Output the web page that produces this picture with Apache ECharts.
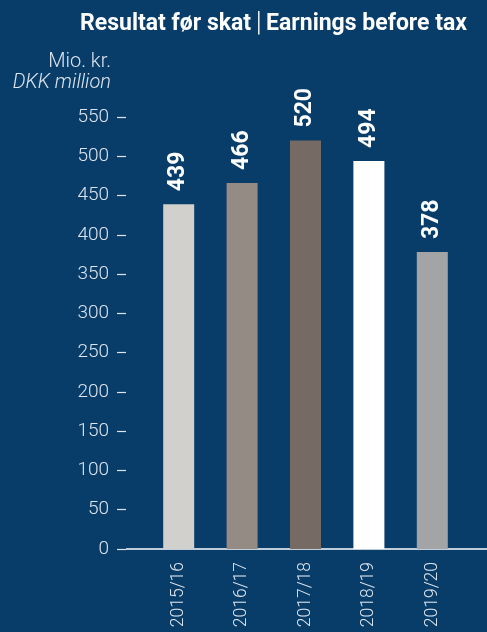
<!DOCTYPE html>
<html>
<head>
<meta charset="utf-8">
<script src="https://cdn.jsdelivr.net/npm/echarts@6/dist/echarts.min.js"></script>
<style>
  html, body { margin: 0; padding: 0; background: #083d69; }
  #chart { width: 487px; height: 632px; }
</style>
</head>
<body>
<div id="chart"></div>
<script>
// data
const years = ['2015/16', '2016/17', '2017/18', '2018/19', '2019/20']
const earnings = [439, 466, 520, 494, 378]
const barColors = ['#d1d0cd', '#958b85', '#756b64', '#ffffff', '#a3a4a6']

const FONT = 'Roboto'
const LIGHT = '#dde5ee'

const chart = echarts.init(document.getElementById('chart'))

const option = {
  backgroundColor: '#083d69',
  textStyle: { fontFamily: FONT },
  title: {
    right: 15,
    top: 6,
    text: '{b|Resultat før skat} {s||} {b|Earnings before tax}',
    textStyle: {
      rich: {
        b: { fontFamily: FONT, fontSize: 23, fontWeight: 'bold', color: '#fff' },
        s: { fontFamily: FONT, fontSize: 27, fontWeight: 300, color: '#fff' }
      }
    }
  },
  grid: { left: 147, right: 23, top: 117, bottom: 83, outerBoundsMode: 'none' },
  xAxis: {
    type: 'category',
    data: years,
    axisLine: { show: false },
    axisTick: { show: false },
    axisLabel: { rotate: 90, margin: 13, color: LIGHT, fontSize: 17.5, fontWeight: 300, fontFamily: FONT }
  },
  yAxis: {
    type: 'value',
    min: 0,
    max: 550,
    interval: 50,
    offset: 21,
    splitLine: { show: false },
    axisLine: { show: false },
    axisTick: { show: true, length: 9, lineStyle: { color: LIGHT, width: 1.2 } },
    axisLabel: { margin: 17, color: LIGHT, fontSize: 19, fontWeight: 300, fontFamily: FONT }
  },
  series: [{
    type: 'bar',
    barWidth: 31,
    data: earnings.map((v, i) => ({ value: v, itemStyle: { color: barColors[i] } })),
    label: {
      show: true,
      position: 'top',
      rotate: 90,
      align: 'left',
      verticalAlign: 'middle',
      distance: 13,
      color: '#fff',
      fontSize: 23,
      fontWeight: 'bold',
      fontFamily: FONT
    }
  }]
}

chart.setOption(option)

// axis line runs wider than the bars, plus the two-line unit caption
const axisY = chart.convertToPixel({ yAxisIndex: 0 }, 0)
chart.setOption({
  graphic: [
    { type: 'line', shape: { x1: 126, y1: axisY, x2: 487, y2: axisY }, style: { stroke: '#fff', lineWidth: 1.5 } },
    { type: 'text', x: 111, y: 62, style: { text: 'Mio. kr.', font: '300 20px ' + FONT, fill: LIGHT, textAlign: 'right', textVerticalAlign: 'middle' } },
    { type: 'text', x: 111, y: 83, style: { text: 'DKK million', font: 'italic 300 20px ' + FONT, fill: LIGHT, textAlign: 'right', textVerticalAlign: 'middle' } }
  ]
})
</script>
</body>
</html>
